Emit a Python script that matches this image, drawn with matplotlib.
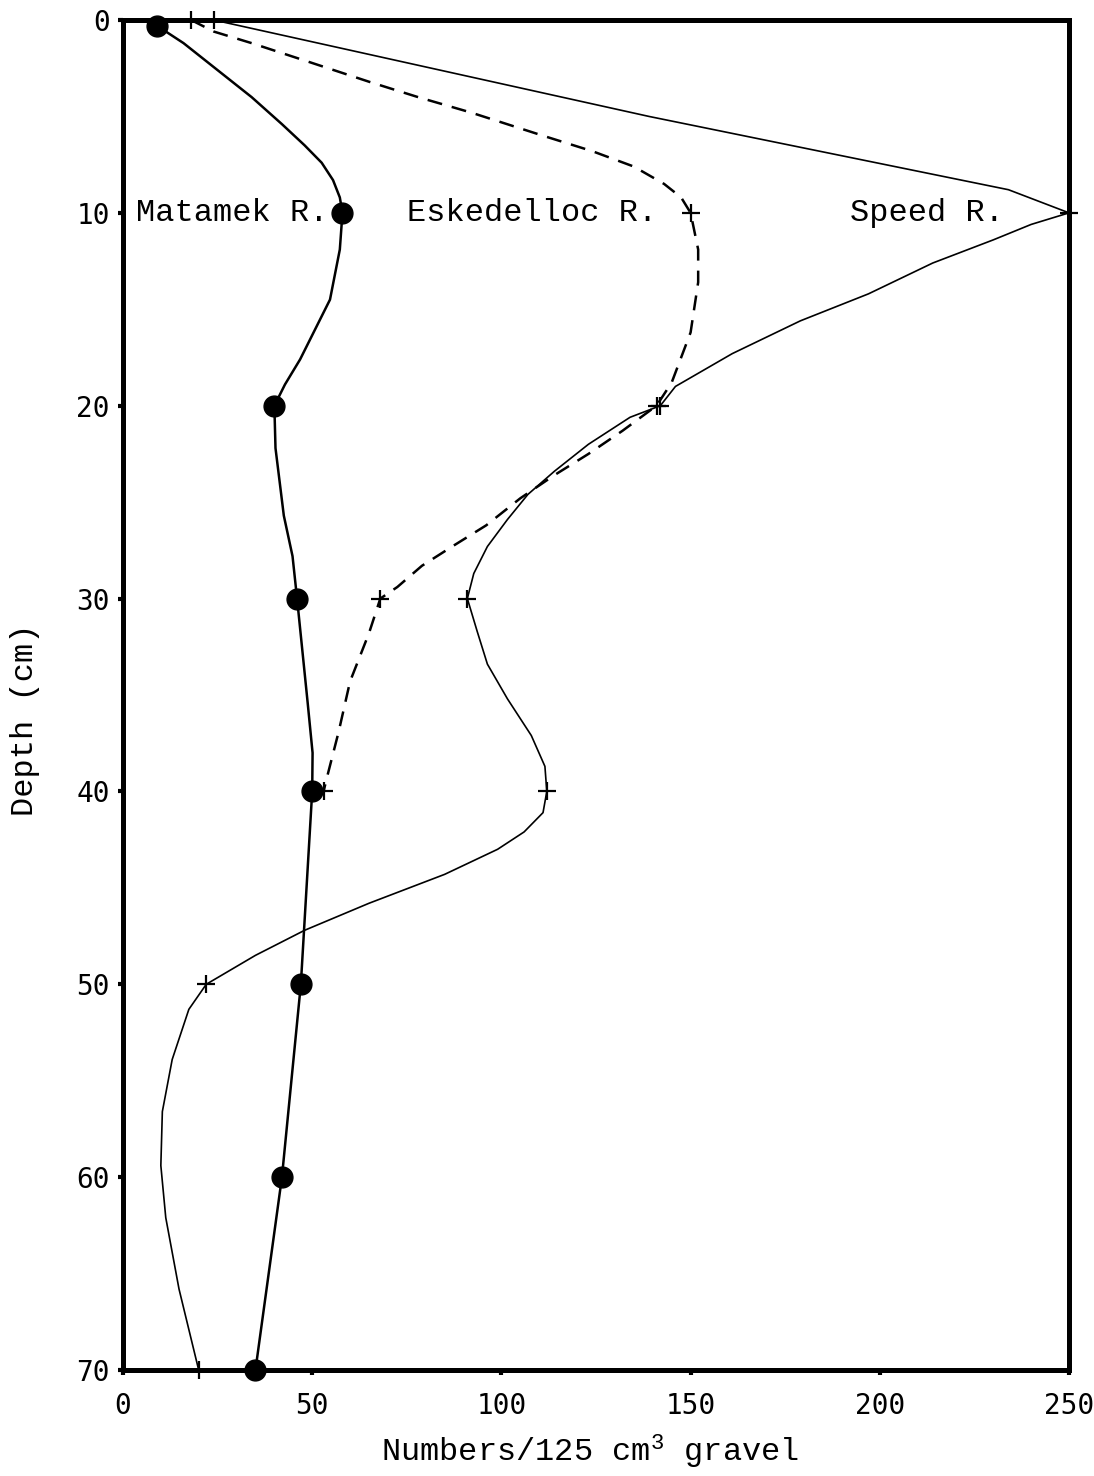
import matplotlib
matplotlib.use("Agg")
import matplotlib.pyplot as plt

# --- data (x = numbers / 125 cm3 gravel, y = depth cm) ---
# sampled points (drawn with markers)
matamek_depth = [0.3, 10, 20, 30, 40, 50, 60, 70]
matamek_count = [9, 58, 40, 46, 50, 47, 42, 35]

eskedelloc_depth = [0, 10, 20, 30, 40]
eskedelloc_count = [18, 150, 141, 68, 53]

speed_depth = [0, 10, 20, 30, 40, 50, 70]
speed_count = [24, 250, 142, 91, 112, 22, 20]

# hand-drawn curves
matamek_curve_depth = [0.3, 1.2, 2.6, 4.0, 5.4, 6.5, 7.4, 8.3, 9.2, 10, 11.9, 14.5,
                       17.6, 18.9, 20, 22.2, 25.7, 27.8, 30, 32.7, 35.4, 38, 40, 45,
                       50, 55, 60, 65, 70]
matamek_curve_count = [9, 16, 25, 34, 42, 48, 52.5, 55.5, 57.3, 58, 57.3, 54.7,
                       46.8, 42.8, 40, 40.3, 42.5, 44.8, 46, 47.4, 48.8, 50.1, 50, 48.5,
                       47, 44.5, 42, 38.5, 35]

eskedelloc_curve_depth = [0, 0.6, 1.2, 2.1, 3.2, 4.0, 4.8, 6.0, 6.8, 7.6, 8.5, 9.2,
                          10, 11.9, 13.6, 16.2, 18.8, 20, 21.3, 22.5, 23.6, 24.8, 26.2,
                          27.3, 28.3, 29.4, 30, 31.8, 34.3, 36.9, 39.2, 40]
eskedelloc_curve_count = [18, 24, 34, 48, 65, 78, 92, 111, 124, 135, 143, 147.5,
                          150, 152, 152, 150, 145, 141, 132, 123, 114, 105, 96,
                          87, 79, 72.5, 68, 65, 60, 57, 54, 53]

speed_curve_depth = [0, 5, 8.8, 10, 10.6, 11.4, 12.6, 14.2, 15.6, 17.3, 19, 20, 20.6,
                     22, 23.4, 24.6, 25.9, 27.3, 28.7, 30, 31.7, 33.4, 35.2, 37.1,
                     38.7, 40, 41.1, 42.1, 43, 44.3, 45.8, 47.2, 48.5, 50, 51.3, 53.9,
                     56.6, 59.4, 62.1, 65.8, 70]
speed_curve_count = [24, 139, 234, 250, 240, 230, 214, 197, 179, 161, 146, 142, 134,
                     123, 114, 107, 101.6, 96.3, 92.7, 91, 93.6, 96.3, 101.6, 107.9,
                     111.5, 112, 111, 106, 99, 85, 65, 48, 35, 22, 17.4, 13,
                     10.4, 10, 11.3, 14.8, 20]

river_labels = ["Matamek R.", "Eskedelloc R.", "Speed R."]
label_x = [3.5, 75, 192]
label_depth = 10

x_ticks = [0, 50, 100, 150, 200, 250]
y_ticks = [0, 10, 20, 30, 40, 50, 60, 70]

serif_mono = "Liberation Mono"
sans_mono = "DejaVu Sans Mono"
plt.rcParams["mathtext.fontset"] = "custom"
plt.rcParams["mathtext.rm"] = serif_mono
plt.rcParams["mathtext.it"] = serif_mono
plt.rcParams["mathtext.bf"] = serif_mono

fig = plt.figure(figsize=(10.94, 14.76), dpi=100)
ax = fig.add_axes([123 / 1094, 1 - 1370 / 1476, 946 / 1094, 1350 / 1476])

# Matamek: solid line, filled dots
ax.plot(matamek_curve_count, matamek_curve_depth, color="black", lw=1.8,
        solid_joinstyle="round", zorder=3)
ax.plot(matamek_count, matamek_depth, "o", color="black", ms=15,
        clip_on=False, zorder=4)

# Eskedelloc: dashed line, small crosses
ax.plot(eskedelloc_curve_count, eskedelloc_curve_depth, color="black", lw=1.8,
        dashes=(6, 4), zorder=3)
ax.plot(eskedelloc_count, eskedelloc_depth, "+", color="black", ms=13, mew=1.6,
        clip_on=False, zorder=4)

# Speed: thin solid line, small crosses
ax.plot(speed_curve_count, speed_curve_depth, color="black", lw=1.2,
        solid_joinstyle="round", zorder=3)
ax.plot(speed_count, speed_depth, "+", color="black", ms=13, mew=1.6,
        clip_on=False, zorder=4)

for name, lx in zip(river_labels, label_x):
    ax.text(lx, label_depth, name, fontsize=23, family=serif_mono,
            ha="left", va="center", zorder=5)

ax.set_xlim(0, 250)
ax.set_ylim(70, 0)
ax.set_xticks(x_ticks)
ax.set_yticks(y_ticks)

for side in ["left", "right", "top", "bottom"]:
    ax.spines[side].set_linewidth(3.6)
ax.tick_params(axis="x", direction="out", length=3.5, width=3, pad=12,
               labelsize=20)
ax.tick_params(axis="y", direction="out", length=3.5, width=3, pad=6,
               labelsize=20)
for lbl in ax.get_xticklabels() + ax.get_yticklabels():
    lbl.set_family(sans_mono)

fig.text(590 / 1094, 1 - 1452 / 1476, r"Numbers/125 cm$^3$ gravel",
         fontsize=23, family=serif_mono, ha="center", va="center")
fig.text(25 / 1094, 1 - 720 / 1476, "Depth (cm)", fontsize=23,
         family=serif_mono, rotation=90, ha="center", va="center")

fig.savefig("out.png", dpi=100, facecolor="white")
